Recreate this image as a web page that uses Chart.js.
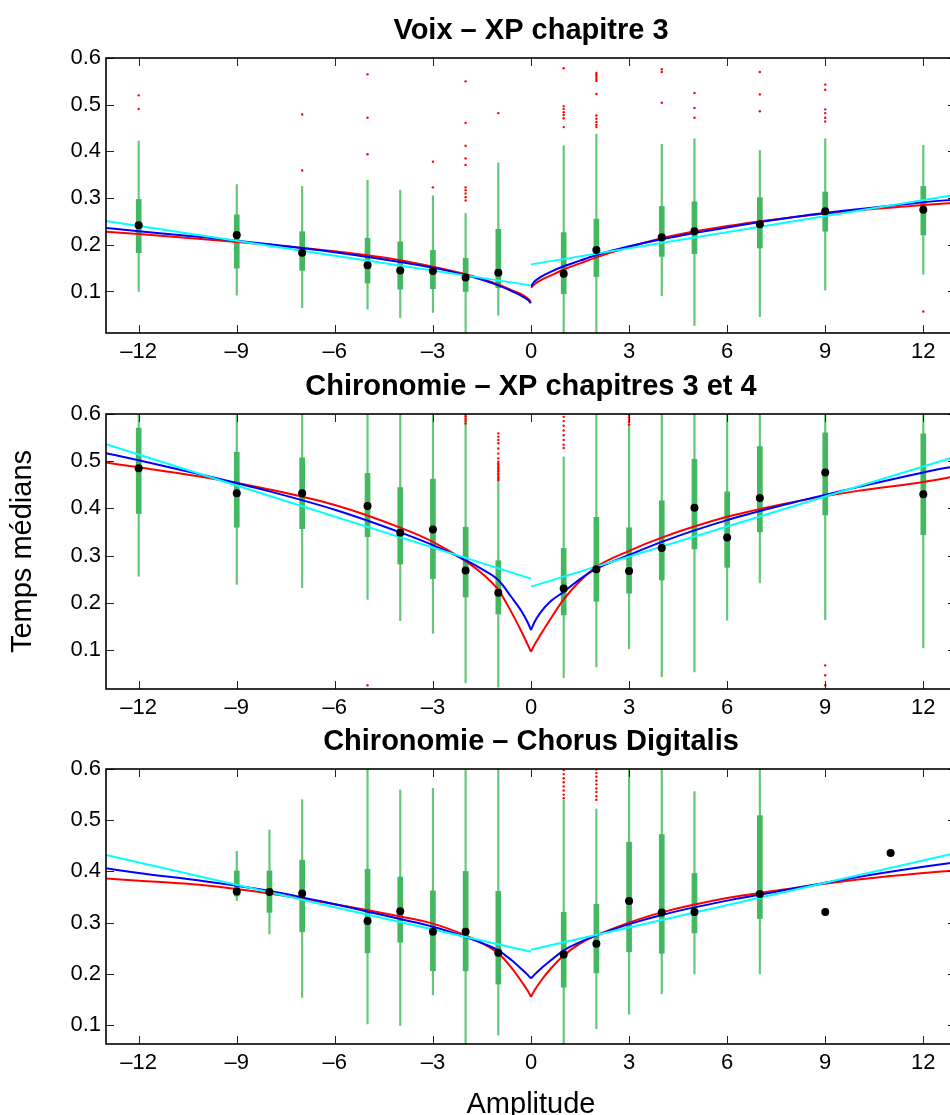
<!DOCTYPE html>
<html><head><meta charset="utf-8">
<script src="https://cdn.jsdelivr.net/npm/chart.js@4.4.0/dist/chart.umd.min.js"></script>
<style>
html,body{margin:0;padding:0;background:#fff;overflow:hidden;width:950px;height:1115px;position:relative;}
canvas{position:absolute;left:0;}
</style></head><body>
<canvas id="c1" width="960" height="370" style="top:0px"></canvas>
<canvas id="c2" width="960" height="370" style="top:356px"></canvas>
<canvas id="c3" width="960" height="414" style="top:711px"></canvas>
<script>
// ---------- tick labels ----------
const xTicks = [-12, -9, -6, -3, 0, 3, 6, 9, 12];
const yTicks = [0.1, 0.2, 0.3, 0.4, 0.5, 0.6];

// ---------- titles ----------
const titles = ['Voix \u2013 XP chapitre 3', 'Chironomie \u2013 XP chapitres 3 et 4', 'Chironomie \u2013 Chorus Digitalis'];
const yTitle = 'Temps médians';
const xTitle = 'Amplitude';

// ---------- panel 1 : Voix ----------
const p1X   = [-12, -9, -7, -5, -4, -3, -2, -1, 1, 2, 4, 5, 7, 9, 12];
const p1Med = [0.242,0.221,0.183,0.156,0.145,0.144,0.130,0.140,0.138,0.189,0.216,0.229,0.244,0.272,0.275];
const p1Q1  = [0.183,0.150,0.145,0.118,0.105,0.106,0.100,0.108,0.095,0.132,0.175,0.181,0.193,0.229,0.221];
const p1Q3  = [0.297,0.264,0.228,0.214,0.206,0.188,0.171,0.233,0.226,0.255,0.282,0.292,0.301,0.313,0.325];
const p1Lo  = [0.100,0.092,0.065,0.062,0.044,0.055,0.011,0.049,0.011,0.011,0.091,0.027,0.046,0.103,0.137];
const p1Hi  = [0.422,0.329,0.325,0.338,0.317,0.305,0.267,0.375,0.412,0.437,0.415,0.427,0.402,0.427,0.413];
const p1OutX = [-12,-12,-7,-7,-5,-5,-5,-3,-3,-2,-2,-2,-2,-2,-2,-2,-2,-2,-2,-1,1,1,1,1,1,1,1,2,2,2,2,2,2,2,2,2,2,2,4,4,4,5,5,5,7,7,7,9,9,9,9,9,9,12];
const p1OutY = [0.520,0.491,0.479,0.359,0.565,0.472,0.394,0.378,0.323,0.550,0.461,0.412,0.385,0.371,0.323,0.317,0.310,0.302,0.295,0.482,0.578,0.497,0.491,0.484,0.478,0.471,0.452,0.568,0.564,0.560,0.555,0.551,0.523,0.477,0.470,0.463,0.457,0.452,0.576,0.570,0.504,0.525,0.493,0.472,0.570,0.522,0.486,0.543,0.532,0.490,0.482,0.472,0.464,0.057];

// ---------- panel 2 : Chironomie XP ----------
const p2X   = [-12, -9, -7, -5, -4, -3, -2, -1, 1, 2, 3, 4, 5, 6, 7, 9, 12];
const p2Med = [0.485,0.432,0.432,0.405,0.348,0.355,0.268,0.221,0.230,0.271,0.267,0.316,0.401,0.338,0.422,0.476,0.430];
const p2Q1  = [0.389,0.360,0.357,0.340,0.282,0.251,0.212,0.176,0.174,0.203,0.220,0.248,0.314,0.275,0.350,0.386,0.344];
const p2Q3  = [0.570,0.519,0.507,0.474,0.444,0.462,0.360,0.289,0.315,0.381,0.359,0.416,0.504,0.435,0.531,0.560,0.558];
const p2Lo  = [0.256,0.239,0.232,0.207,0.162,0.135,0.030,0.021,0.041,0.064,0.102,0.043,0.053,0.163,0.242,0.164,0.104];
const p2Hi  = [0.6,0.6,0.6,0.6,0.6,0.6,0.6,0.460,0.509,0.6,0.577,0.6,0.6,0.6,0.6,0.6,0.6];
const p2OutX = [-5,-2,-2,-2,-2,-2,-1,-1,-1,-1,-1,-1,-1,-1,-1,-1,-1,-1,-1,-1,-1,-1,-1,-1,-1,1,1,1,1,1,1,1,1,3,3,3,3,3,9,9,9];
const p2OutY = [0.025,0.599,0.595,0.590,0.585,0.580,0.559,0.552,0.545,0.538,0.527,0.516,0.506,0.499,0.495,0.492,0.488,0.485,0.481,0.478,0.474,0.471,0.467,0.464,0.460,0.594,0.585,0.575,0.565,0.555,0.545,0.535,0.528,0.598,0.593,0.588,0.583,0.578,0.067,0.046,0.025];

// ---------- panel 3 : Chorus Digitalis ----------
const p3X   = [-9, -8, -7, -5, -4, -3, -2, -1, 1, 2, 3, 4, 5, 7, 9, 11];
const p3Med = [0.361,0.360,0.357,0.303,0.322,0.282,0.282,0.241,0.238,0.259,0.342,0.320,0.321,0.356,0.321,0.436];
const p3Q1  = [0.352,0.320,0.282,0.241,0.262,0.206,0.206,0.180,0.174,0.202,0.243,0.240,0.280,0.308,null,null];
const p3Q3  = [0.401,0.401,0.422,0.404,0.389,0.362,0.400,0.361,0.320,0.336,0.457,0.472,0.396,0.509,null,null];
const p3Lo  = [0.343,0.278,0.154,0.102,0.099,0.159,0.063,0.080,0.063,0.093,0.121,0.161,0.200,0.200,null,null];
const p3Hi  = [0.439,0.481,0.540,0.6,0.559,0.562,0.6,0.6,0.539,0.522,0.6,0.6,0.556,0.6,null,null];
const p3OutX = [1,1,1,1,1,1,1,1,2,2,2,2,2,2,2,2,2];
const p3OutY = [0.598,0.590,0.582,0.574,0.566,0.558,0.550,0.543,0.599,0.592,0.585,0.577,0.570,0.562,0.555,0.547,0.540];

// ---------- fitted curves ----------
const negX = [-13,-12,-10,-8,-6,-4,-3,-2,-1.5,-1,-0.6,-0.3,-0.1,0];
const posX = [0,0.1,0.3,0.6,1,1.5,2,3,4,6,8,10,12,13];
const linNegX = [-13, 0];
const linPosX = [0, 13];

const p1RedNeg  = [0.228,0.223,0.212,0.200,0.186,0.167,0.153,0.137,0.127,0.115,0.103,0.094,0.085,0.078];
const p1BlueNeg = [0.236,0.229,0.216,0.201,0.184,0.163,0.151,0.135,0.125,0.113,0.101,0.091,0.082,0.075];
const p1CyanNeg = [0.251,0.113];
const p1RedPos  = [0.108,0.115,0.124,0.134,0.147,0.160,0.173,0.195,0.214,0.240,0.259,0.274,0.285,0.290];
const p1BluePos = [0.111,0.121,0.131,0.142,0.154,0.166,0.178,0.197,0.212,0.237,0.259,0.276,0.291,0.297];
const p1CyanPos = [0.158,0.307];

const p2RedNeg  = [0.497,0.487,0.466,0.440,0.407,0.359,0.329,0.288,0.262,0.227,0.180,0.140,0.111,0.096];
const p2BlueNeg = [0.517,0.502,0.470,0.436,0.397,0.349,0.322,0.290,0.271,0.248,0.212,0.183,0.158,0.142];
const p2CyanNeg = [0.536,0.251];
const p2RedPos  = [0.096,0.110,0.133,0.166,0.207,0.246,0.276,0.310,0.338,0.382,0.413,0.437,0.456,0.468];
const p2BluePos = [0.142,0.158,0.180,0.203,0.223,0.250,0.272,0.301,0.329,0.375,0.412,0.445,0.476,0.490];
const p2CyanPos = [0.234,0.510];

const p3RedNeg  = [0.386,0.382,0.373,0.357,0.336,0.312,0.298,0.275,0.260,0.240,0.212,0.186,0.167,0.155];
const p3BlueNeg = [0.406,0.397,0.381,0.362,0.336,0.307,0.292,0.272,0.260,0.246,0.227,0.210,0.198,0.191];
const p3CyanNeg = [0.432,0.243];
const p3RedPos  = [0.155,0.167,0.186,0.210,0.236,0.259,0.275,0.300,0.320,0.348,0.367,0.384,0.397,0.402];
const p3BluePos = [0.191,0.198,0.210,0.226,0.246,0.262,0.275,0.297,0.315,0.343,0.366,0.389,0.409,0.418];
const p3CyanPos = [0.247,0.436];

// ---------- rendering ----------
const FONT = "'Liberation Sans', Arial, Helvetica, sans-serif";
const BOX_GREEN = 'rgb(68,184,96)';
const WHISK_GREEN = 'rgb(100,198,122)';

const matlabBox = {
  id: 'matlabBox',
  afterDraw(chart) {
    const {ctx, chartArea: a, scales: {x, y}} = chart;
    const tl = 8;
    ctx.save();
    ctx.strokeStyle = '#222';
    ctx.lineWidth = 1;
    ctx.beginPath();
    x.ticks.forEach(t => {
      const px = Math.round(x.getPixelForValue(t.value)) + 0.5;
      ctx.moveTo(px, a.bottom); ctx.lineTo(px, a.bottom - tl);
      ctx.moveTo(px, a.top); ctx.lineTo(px, a.top + tl);
    });
    y.ticks.forEach(t => {
      const py = Math.round(y.getPixelForValue(t.value)) + 0.5;
      ctx.moveTo(a.left, py); ctx.lineTo(a.left + tl, py);
      ctx.moveTo(a.right, py); ctx.lineTo(a.right - tl, py);
    });
    ctx.stroke();
    ctx.strokeStyle = '#000';
    ctx.lineWidth = 1.6;
    ctx.strokeRect(a.left, a.top, a.right - a.left, a.bottom - a.top);
    ctx.restore();
  }
};

function pts(xs, ys) { return xs.map((v, i) => ({x: v, y: ys[i]})); }

function curve(xs, ys, color, order) {
  return {type: 'line', data: pts(xs, ys), borderColor: color, borderWidth: 2, pointRadius: 0,
          cubicInterpolationMode: 'monotone', fill: false, order: order, clip: 0};
}

function makePanel(id, p) {
  const boxData = [], whiskData = [], medData = [];
  p.x.forEach((xv, i) => {
    medData.push({x: xv, y: p.med[i]});
    if (p.q1[i] != null) boxData.push({x: xv, y: [p.q1[i], p.q3[i]]});
    if (p.lo[i] != null) whiskData.push({x: xv, y: [p.lo[i], p.hi[i]]});
  });
  const datasets = [
    {type: 'scatter', data: medData, pointRadius: 4, pointBackgroundColor: '#000', pointBorderWidth: 0, order: 0},
    {type: 'scatter', data: pts(p.outX, p.outY), pointRadius: 1.2, pointBackgroundColor: '#ff0000', pointBorderWidth: 0, order: 1, clip: 0},
    curve(linNegX, p.cyanNeg, '#00ffff', 2),
    curve(linPosX, p.cyanPos, '#00ffff', 2),
    curve(negX, p.blueNeg, '#0000ff', 3),
    curve(posX, p.bluePos, '#0000ff', 3),
    curve(negX, p.redNeg, '#ff0000', 4),
    curve(posX, p.redPos, '#ff0000', 4),
    {type: 'bar', data: boxData, backgroundColor: BOX_GREEN, borderWidth: 0, barThickness: 5, grouped: false, order: 5, clip: 0},
    {type: 'bar', data: whiskData, backgroundColor: WHISK_GREEN, borderWidth: 0, barThickness: 1.5, grouped: false, order: 6, clip: 0}
  ];
  return new Chart(document.getElementById(id), {
    type: 'scatter',
    data: {datasets},
    plugins: [matlabBox],
    options: {
      responsive: false, animation: false, events: [],
      layout: {padding: {left: 0, right: 4, top: 0, bottom: 0}},
      plugins: {
        legend: {display: false}, tooltip: {enabled: false},
        title: {display: true, text: p.title, color: '#000', fullSize: false,
                font: {family: FONT, size: 29, weight: 'bold', lineHeight: 1.2},
                padding: {top: 14, bottom: 9.2}}
      },
      scales: {
        x: {type: 'linear', min: -13, max: 13, offset: false,
            grid: {display: false, drawTicks: false}, border: {display: false},
            afterBuildTicks: s => { s.ticks = xTicks.map(v => ({value: v})); },
            afterFit: s => { s.height = p.xH; },
            ticks: {color: '#000', font: {family: FONT, size: 22}, padding: 6, maxRotation: 0, autoSkip: false,
                    callback: v => v < 0 ? '\u2013' + Math.abs(v) : String(v)},
            title: {display: !!p.xTitle, text: p.xTitle || '', color: '#000',
                    font: {family: FONT, size: 29}, padding: {top: 0, bottom: 3}}},
        y: {type: 'linear', min: p.ymin, max: 0.6,
            grid: {display: false, drawTicks: false}, border: {display: false},
            afterBuildTicks: s => { s.ticks = yTicks.map(v => ({value: v})); },
            afterFit: s => { s.width = 106; },
            ticks: {color: '#000', font: {family: FONT, size: 22}, padding: 5,
                    callback: v => Number(v).toFixed(1)},
            title: {display: !!p.yTitle, text: p.yTitle || '', color: '#000',
                    font: {family: FONT, size: 29}, padding: {top: 6, bottom: 0}}}
      }
    }
  });
}

makePanel('c1', {title: titles[0], ymin: 0.011, xH: 37,
  x: p1X, med: p1Med, q1: p1Q1, q3: p1Q3, lo: p1Lo, hi: p1Hi, outX: p1OutX, outY: p1OutY,
  redNeg: p1RedNeg, blueNeg: p1BlueNeg, cyanNeg: p1CyanNeg, redPos: p1RedPos, bluePos: p1BluePos, cyanPos: p1CyanPos});
makePanel('c2', {title: titles[1], ymin: 0.017, xH: 37, yTitle: yTitle,
  x: p2X, med: p2Med, q1: p2Q1, q3: p2Q3, lo: p2Lo, hi: p2Hi, outX: p2OutX, outY: p2OutY,
  redNeg: p2RedNeg, blueNeg: p2BlueNeg, cyanNeg: p2CyanNeg, redPos: p2RedPos, bluePos: p2BluePos, cyanPos: p2CyanPos});
makePanel('c3', {title: titles[2], ymin: 0.063, xH: 81, xTitle: xTitle,
  x: p3X, med: p3Med, q1: p3Q1, q3: p3Q3, lo: p3Lo, hi: p3Hi, outX: p3OutX, outY: p3OutY,
  redNeg: p3RedNeg, blueNeg: p3BlueNeg, cyanNeg: p3CyanNeg, redPos: p3RedPos, bluePos: p3BluePos, cyanPos: p3CyanPos});
</script></body></html>
